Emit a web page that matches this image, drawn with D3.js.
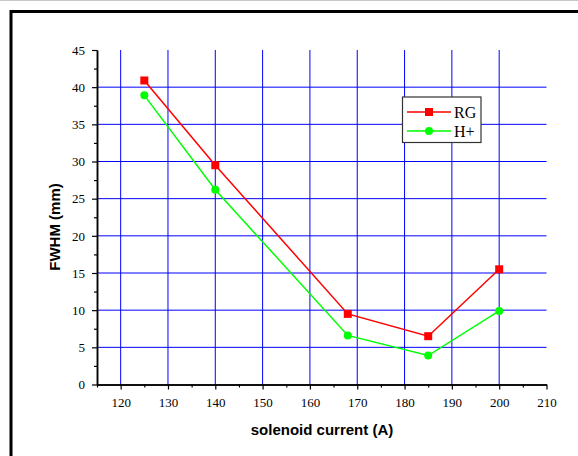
<!DOCTYPE html>
<html><head><meta charset="utf-8">
<script src="https://cdn.jsdelivr.net/npm/d3@7"></script>
<style>body{margin:0;background:#fff}svg{display:block}</style>
</head><body>
<svg id="chart" width="578" height="456"></svg>
<script>
const current = [125, 140, 168, 185, 200];
const rgValues = [40.9, 29.5, 9.5, 6.5, 15.5];
const hValues = [38.9, 26.2, 6.6, 3.9, 9.9];
const seriesNames = ["RG", "H+"];
const xTicks = [120, 130, 140, 150, 160, 170, 180, 190, 200, 210];
const yTicks = [0, 5, 10, 15, 20, 25, 30, 35, 40, 45];

const svg = d3.select("#chart");
const x = d3.scaleLinear().domain([115, 210]).range([97, 546.5]);
const y = d3.scaleLinear().domain([0, 45]).range([384.5, 50]);
const serif = "Liberation Serif, Times New Roman, serif";
const sans = "Liberation Sans, Arial, sans-serif";

// outer frame
svg.append("line").attr("x1", 0).attr("x2", 578).attr("y1", 0.5).attr("y2", 0.5).attr("stroke", "#c8c8c8");
svg.append("rect").attr("x", 11).attr("y", 11.5).attr("width", 600).attr("height", 500)
  .attr("fill", "none").attr("stroke", "#000").attr("stroke-width", 3);

// grid (no line at the top value)
const grid = svg.append("g").attr("stroke", "#0000ff").attr("stroke-width", 1);
grid.selectAll("line.v").data(xTicks.slice(0, -1)).enter().append("line").attr("class", "v")
  .attr("x1", d => x(d)).attr("x2", d => x(d)).attr("y1", y(45)).attr("y2", y(0));
grid.selectAll("line.h").data(yTicks.slice(1, -1)).enter().append("line").attr("class", "h")
  .attr("x1", x(115)).attr("x2", x(210)).attr("y1", d => y(d)).attr("y2", d => y(d));

// axes
const xAxis = d3.axisBottom(x).tickValues(xTicks).tickSize(5).tickSizeOuter(0).tickPadding(8);
const xMinor = d3.axisBottom(x).tickValues(d3.range(115, 211, 10)).tickSize(3).tickFormat("").tickSizeOuter(0);
const yAxis = d3.axisLeft(y).tickValues(yTicks).tickSize(5).tickSizeOuter(0).tickPadding(7);
const yMinor = d3.axisLeft(y).tickValues(d3.range(2.5, 45, 5)).tickSize(3).tickFormat("").tickSizeOuter(0);

function styleAxis(g) {
  g.attr("font-family", serif).attr("font-size", 13);
  g.select(".domain").attr("stroke", "#000").attr("stroke-width", 1.5);
  g.selectAll(".tick line").attr("stroke", "#000").attr("stroke-width", 1.2);
  g.selectAll(".tick text").style("font-family", serif).style("font-size", "13px").attr("fill", "#000");
}
svg.append("g").attr("transform", `translate(0,${y(0)})`).call(xMinor).call(styleAxis);
svg.append("g").attr("transform", `translate(0,${y(0)})`).call(xAxis).call(styleAxis);
svg.append("g").attr("transform", `translate(${x(115)},0)`).call(yMinor).call(styleAxis);
svg.append("g").attr("transform", `translate(${x(115)},0)`).call(yAxis).call(styleAxis);

// titles
svg.append("text").attr("x", 322).attr("y", 435).attr("text-anchor", "middle")
  .style("font-family", sans).attr("font-weight", "bold").attr("font-size", 15)
  .text("solenoid current (A)");
svg.append("text").attr("transform", "translate(59.5,227) rotate(-90)").attr("text-anchor", "middle")
  .style("font-family", sans).attr("font-weight", "bold").attr("font-size", 15)
  .text("FWHM (mm)");

// series
const line = d3.line().x(d => x(d[0])).y(d => y(d[1]));
const rg = current.map((c, i) => [c, rgValues[i]]);
const hp = current.map((c, i) => [c, hValues[i]]);
svg.append("path").datum(hp).attr("d", line).attr("fill", "none").attr("stroke", "#00ff00").attr("stroke-width", 1.5);
svg.append("path").datum(rg).attr("d", line).attr("fill", "none").attr("stroke", "#ff0000").attr("stroke-width", 1.5);
svg.selectAll(".rgpt").data(rg).enter().append("rect")
  .attr("x", d => x(d[0]) - 4).attr("y", d => y(d[1]) - 4).attr("width", 8).attr("height", 8).attr("fill", "#ff0000");
svg.selectAll(".hpt").data(hp).enter().append("circle")
  .attr("cx", d => x(d[0])).attr("cy", d => y(d[1])).attr("r", 4).attr("fill", "#00ff00");

// legend
const lg = svg.append("g");
lg.append("rect").attr("x", 402.5).attr("y", 97).attr("width", 78.5).attr("height", 45.5)
  .attr("fill", "#fff").attr("stroke", "#333").attr("stroke-width", 1.2);
const colors = ["#ff0000", "#00ff00"];
seriesNames.forEach((n, i) => {
  const cy = 112 + i * 19;
  lg.append("line").attr("x1", 407).attr("x2", 451).attr("y1", cy).attr("y2", cy).attr("stroke", colors[i]).attr("stroke-width", 1.5);
  if (i === 0) lg.append("rect").attr("x", 425).attr("y", cy - 4).attr("width", 8).attr("height", 8).attr("fill", colors[i]);
  else lg.append("circle").attr("cx", 429).attr("cy", cy).attr("r", 4).attr("fill", colors[i]);
  lg.append("text").attr("x", 454).attr("y", cy + 5.5).style("font-family", serif)
    .attr("font-size", 16).attr("fill", "#000").text(n);
});
</script>
</body></html>
